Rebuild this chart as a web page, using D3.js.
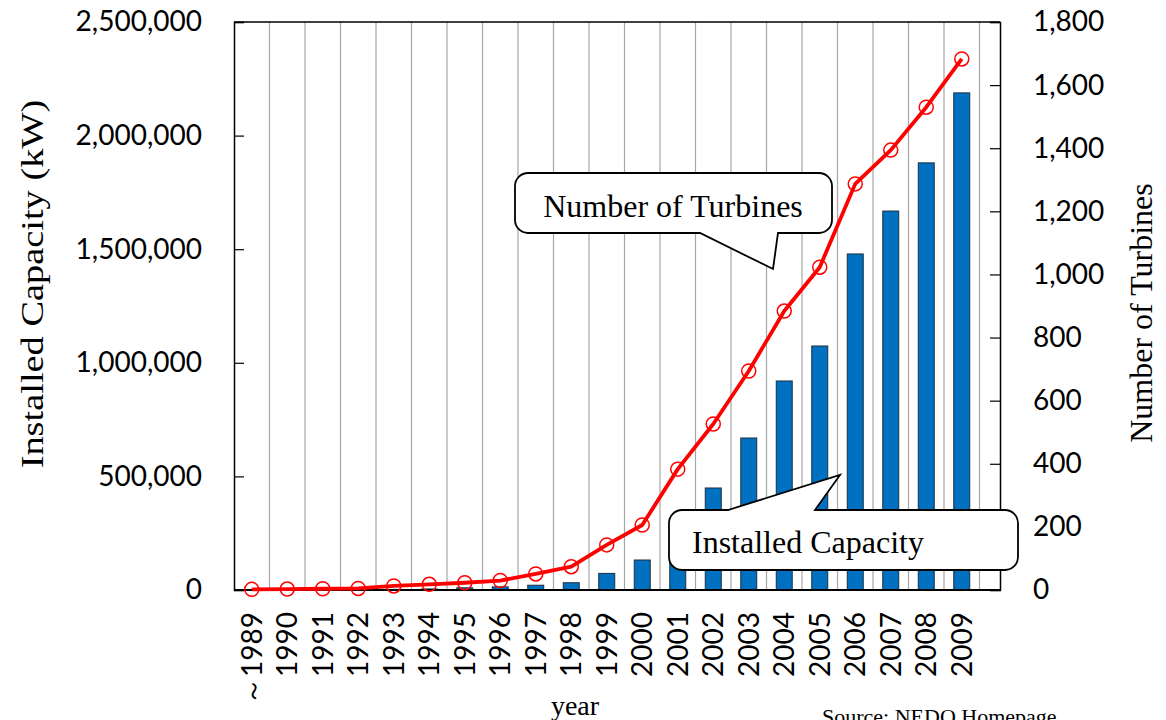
<!DOCTYPE html>
<html>
<head>
<meta charset="utf-8">
<script src="https://cdn.jsdelivr.net/npm/d3@7"></script>
<style>
  body { margin: 0; background: #fff; }
  svg { display: block; }
  .tick-label { font-family: Lato, "Open Sans", sans-serif; font-size: 28px; fill: #000; }
  .serif { font-family: "Liberation Serif", "DejaVu Serif", serif; fill: #000; }
</style>
</head>
<body>
<svg id="chart" width="1166" height="720"></svg>
<script>
// data
var years = ["1989", "1990", "1991", "1992", "1993", "1994", "1995", "1996", "1997", "1998", "1999",
             "2000", "2001", "2002", "2003", "2004", "2005", "2006", "2007", "2008", "2009"]
var yearLabels = ["～1989", "1990", "1991", "1992", "1993", "1994", "1995", "1996", "1997", "1998", "1999",
             "2000", "2001", "2002", "2003", "2004", "2005", "2006", "2007", "2008", "2009"]
var capacity = [1000, 1100, 1200, 1500, 2700, 4600, 9600, 13800, 21000, 32000, 73000,
                132000, 312000, 449000, 669000, 920000, 1074000, 1479000, 1668000, 1880000, 2188000]
var turbines = [2, 3, 4, 5, 13, 18, 23, 30, 51, 74, 143,
                206, 383, 526, 694, 884, 1023, 1287, 1394, 1530, 1683]
var leftTicks = [0, 500000, 1000000, 1500000, 2000000, 2500000]
var rightTicks = [0, 200, 400, 600, 800, 1000, 1200, 1400, 1600, 1800]

const plot = {
    left: 234,
    right: 1000,
    top: 22,
    bottom: 590,
    band: 35.5
}

var svg = d3.select("#chart")

var xScale = d3.scaleBand()
    .domain(years)
    .range([plot.left, plot.left + plot.band * years.length])
    .padding(0)
var yLeft = d3.scaleLinear().domain([0, 2500000]).range([plot.bottom, plot.top])
var yRight = d3.scaleLinear().domain([0, 1800]).range([plot.bottom, plot.top])

// vertical grid lines at category boundaries
svg.append("g")
    .selectAll("line")
    .data(years)
    .join("line")
        .attr("x1", d => xScale(d) + xScale.bandwidth())
        .attr("x2", d => xScale(d) + xScale.bandwidth())
        .attr("y1", plot.top)
        .attr("y2", plot.bottom)
        .attr("stroke", "#a6a6a6")
        .attr("stroke-width", 1.2)

// bars (installed capacity)
var barW = xScale.bandwidth() * 0.45
svg.append("g")
    .selectAll("rect")
    .data(years)
    .join("rect")
        .attr("x", d => xScale(d) + (xScale.bandwidth() - barW) / 2)
        .attr("y", (d, i) => yLeft(capacity[i]))
        .attr("width", barW)
        .attr("height", (d, i) => plot.bottom - yLeft(capacity[i]))
        .attr("fill", "#0070c0")
        .attr("stroke", "#1c2e40")
        .attr("stroke-width", 1)

// frame: top border + axes
svg.append("line")
    .attr("x1", plot.left).attr("x2", plot.right)
    .attr("y1", plot.top).attr("y2", plot.top)
    .attr("stroke", "#000").attr("stroke-width", 1.5)

var leftAxis = svg.append("g")
    .attr("transform", "translate(" + plot.left + ",0)")
    .call(d3.axisLeft(yLeft).tickValues(leftTicks).tickSize(-10).tickPadding(32).tickFormat(d3.format(",")))
var rightAxis = svg.append("g")
    .attr("transform", "translate(" + plot.right + ",0)")
    .call(d3.axisRight(yRight).tickValues(rightTicks).tickSize(-10).tickPadding(33).tickFormat(d3.format(",")))
for (let ax of [leftAxis, rightAxis]) {
    ax.select(".domain").attr("stroke", "#000").attr("stroke-width", 1.5)
    ax.selectAll(".tick line").attr("stroke", "#000").attr("stroke-width", 1.2)
    ax.selectAll(".tick text").attr("class", "tick-label").attr("font-size", null).attr("font-family", null)
}
rightAxis.selectAll(".tick text").attr("x", 33)

svg.append("line")
    .attr("x1", plot.left).attr("x2", plot.right)
    .attr("y1", plot.bottom).attr("y2", plot.bottom)
    .attr("stroke", "#000").attr("stroke-width", 2)

// x labels, rotated
svg.append("g")
    .selectAll("text")
    .data(years)
    .join("text")
        .attr("class", "tick-label")
        .attr("transform", d => "translate(" + (xScale(d) + xScale.bandwidth() / 2 + 10) + ",612) rotate(-90)")
        .attr("text-anchor", "end")
        .text((d, i) => yearLabels[i])

// turbine line
var line = d3.line()
    .x((d, i) => xScale(years[i]) + xScale.bandwidth() / 2)
    .y(d => yRight(d))
svg.append("path")
    .datum(turbines)
    .attr("d", line)
    .attr("fill", "none")
    .attr("stroke", "#ff0000")
    .attr("stroke-width", 3.8)
    .attr("stroke-linejoin", "round")
svg.append("g")
    .selectAll("circle")
    .data(turbines)
    .join("circle")
        .attr("cx", (d, i) => xScale(years[i]) + xScale.bandwidth() / 2)
        .attr("cy", d => yRight(d))
        .attr("r", 7)
        .attr("fill", "none")
        .attr("stroke", "#ff0000")
        .attr("stroke-width", 1.5)

// callout helper: rounded box with a pointer leaving one edge
function callout(x, y, w, h, r, side, a, b, tip) {
    var p = d3.path()
    var e = side == "bottom" ? y + h : y
    p.moveTo(x + r, y)
    if (side == "top") { p.lineTo(a, y); p.lineTo(tip[0], tip[1]); p.lineTo(b, y) }
    p.lineTo(x + w - r, y)
    p.arcTo(x + w, y, x + w, y + r, r)
    p.lineTo(x + w, y + h - r)
    p.arcTo(x + w, y + h, x + w - r, y + h, r)
    if (side == "bottom") { p.lineTo(b, e); p.lineTo(tip[0], tip[1]); p.lineTo(a, e) }
    p.lineTo(x + r, y + h)
    p.arcTo(x, y + h, x, y + h - r, r)
    p.lineTo(x, y + r)
    p.arcTo(x, y, x + r, y, r)
    p.closePath()
    svg.append("path")
        .attr("d", p.toString())
        .attr("fill", "#fff")
        .attr("stroke", "#000")
        .attr("stroke-width", 1.8)
}

callout(515, 173, 317, 60, 13, "bottom", 700, 778, [773, 269])
svg.append("text").attr("class", "serif")
    .attr("x", 673).attr("y", 217)
    .attr("text-anchor", "middle")
    .style("font-size", "32px")
    .text("Number of Turbines")

callout(669, 510, 349, 60, 13, "top", 728, 815, [840, 475])
svg.append("text").attr("class", "serif")
    .attr("x", 692).attr("y", 553)
    .style("font-size", "32px")
    .text("Installed Capacity")

// axis titles (left one is stretched along its length in the original)
svg.append("text").attr("class", "serif")
    .attr("transform", "translate(43,284) rotate(-90) scale(1.2,1)")
    .attr("text-anchor", "middle")
    .style("font-size", "32px")
    .text("Installed Capacity (kW)")
svg.append("text").attr("class", "serif")
    .attr("transform", "translate(1152,313) rotate(-90)")
    .attr("text-anchor", "middle")
    .style("font-size", "32px")
    .text("Number of Turbines")
svg.append("text").attr("class", "serif")
    .attr("x", 575).attr("y", 715)
    .attr("text-anchor", "middle")
    .style("font-size", "28px")
    .text("year")
svg.append("text").attr("class", "serif")
    .attr("x", 822).attr("y", 724)
    .style("font-size", "22px")
    .text("Source: NEDO Homepage")
</script>
</body>
</html>
